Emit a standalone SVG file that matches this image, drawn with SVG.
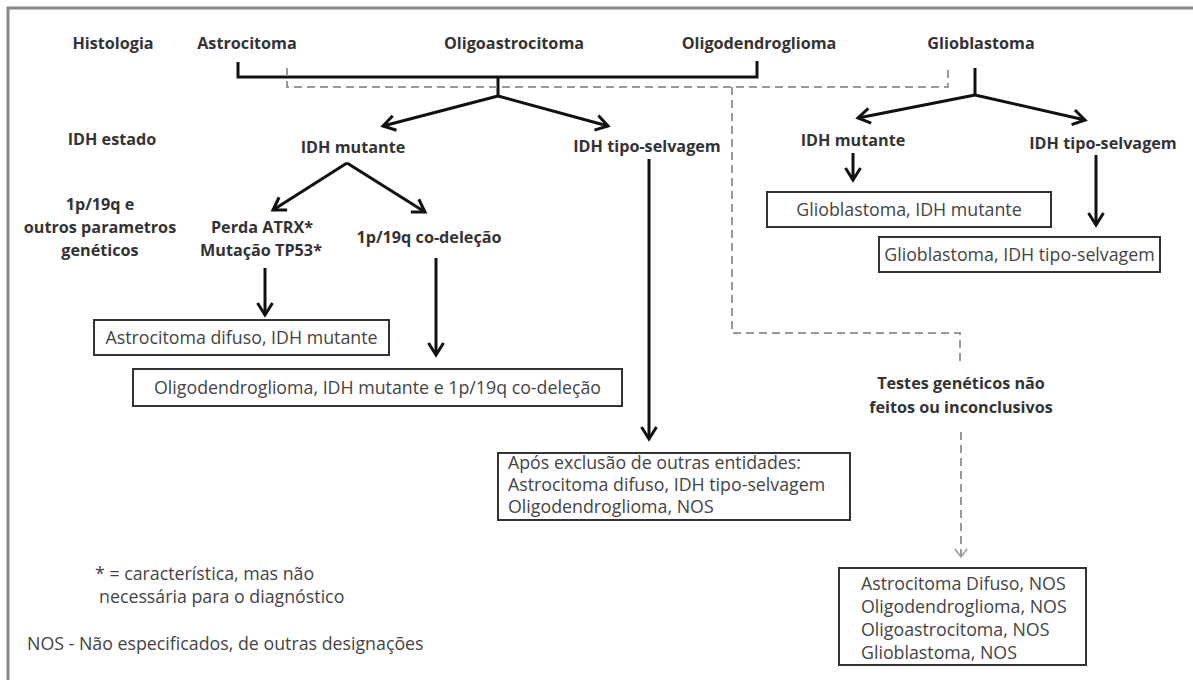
<svg xmlns="http://www.w3.org/2000/svg" width="1193" height="680" viewBox="0 0 1193 680">
<style>
.lbl{font-family:"Open Sans","Liberation Sans",sans-serif;font-weight:700;font-size:16.2px;fill:#333;text-anchor:middle}
.txt{font-family:"Open Sans","Liberation Sans",sans-serif;font-size:17.8px;fill:#444}
.box{fill:#fff;stroke:#333;stroke-width:2}
.sol{fill:none;stroke:#111;stroke-width:3}
.arr{fill:none;stroke:#111;stroke-width:3;marker-end:url(#ah)}
.dash{fill:none;stroke:#999;stroke-width:2;stroke-dasharray:8 5}
</style>
<defs>
<marker id="ah" markerUnits="userSpaceOnUse" markerWidth="24" markerHeight="24" viewBox="-16 -12 20 24" refX="0" refY="0" orient="auto">
<path d="M-12,-7.5 L0,0 L-12,7.5" fill="none" stroke="#111" stroke-width="3" stroke-linejoin="miter"/>
</marker>
<marker id="ahd" markerUnits="userSpaceOnUse" markerWidth="20" markerHeight="20" viewBox="-12 -10 16 20" refX="0" refY="0" orient="auto">
<path d="M-8,-6 L0,0 L-8,6" fill="none" stroke="#999" stroke-width="1.6"/>
</marker>
</defs>
<rect x="0" y="0" width="1193" height="680" fill="#fff"/>
<g id="frame" fill="none" stroke="#888" stroke-width="3">
<path d="M8,680 V8 H1193"/>
</g>

<g id="connectors">
<path class="sol" d="M238,62 V77 H757 V61"/>
<path class="sol" d="M498,77 V96"/>
<path class="arr" d="M498,96 L383,126"/>
<path class="arr" d="M498,96 L608,126"/>
<path class="sol" d="M975,68 V95"/>
<path class="arr" d="M975,95 L858,118"/>
<path class="arr" d="M975,95 L1085,120"/>
<path class="arr" d="M853,153 V180"/>
<path class="arr" d="M1096,155 V225"/>
<path class="arr" d="M347,163 L273,210"/>
<path class="arr" d="M347,163 L425,212"/>
<path class="arr" d="M265,268 V315"/>
<path class="arr" d="M436,258 V355"/>
<path class="arr" d="M649,159 V439"/>
<path class="dash" d="M287,68 V87 H948 V66"/>
<path class="dash" d="M732,87 V333 H960 V365"/>
<path class="dash" d="M961,432 V557" marker-end="url(#ahd)"/>
</g>

<g id="row-labels">
<text class="lbl" x="113" y="49">Histologia</text>
<text class="lbl" x="112" y="145">IDH estado</text>
<text class="lbl" x="100" y="210">1p/19q e</text>
<text class="lbl" x="100" y="233">outros parametros</text>
<text class="lbl" x="100" y="256">genéticos</text>
</g>

<g id="n-astrocitoma"><text class="lbl" x="247" y="49">Astrocitoma</text></g>
<g id="n-oligoastrocitoma"><text class="lbl" x="514" y="49">Oligoastrocitoma</text></g>
<g id="n-oligodendroglioma"><text class="lbl" x="759" y="49">Oligodendroglioma</text></g>
<g id="n-glioblastoma"><text class="lbl" x="981" y="49">Glioblastoma</text></g>

<g id="n-idh-mut"><text class="lbl" x="353" y="153">IDH mutante</text></g>
<g id="n-idh-wt"><text class="lbl" x="647" y="152">IDH tipo-selvagem</text></g>
<g id="n-gbm-idh-mut"><text class="lbl" x="853" y="146">IDH mutante</text></g>
<g id="n-gbm-idh-wt"><text class="lbl" x="1103" y="149">IDH tipo-selvagem</text></g>

<g id="n-atrx">
<text class="lbl" x="262" y="233">Perda ATRX*</text>
<text class="lbl" x="261" y="256">Mutação TP53*</text>
</g>
<g id="n-codel"><text class="lbl" x="429" y="243">1p/19q co-deleção</text></g>

<g id="b-astro-difuso">
<rect class="box" x="94" y="320" width="295" height="35"/>
<text class="txt" x="241.5" y="344" text-anchor="middle">Astrocitoma difuso, IDH mutante</text>
</g>
<g id="b-oligo">
<rect class="box" x="133" y="369" width="489" height="37"/>
<text class="txt" x="377.5" y="394" text-anchor="middle">Oligodendroglioma, IDH mutante e 1p/19q co-deleção</text>
</g>
<g id="b-gbm-mut">
<rect class="box" x="767" y="192" width="284" height="35"/>
<text class="txt" x="909" y="216" text-anchor="middle">Glioblastoma, IDH mutante</text>
</g>
<g id="b-gbm-wt">
<rect class="box" x="879" y="237" width="281" height="35"/>
<text class="txt" x="1019.5" y="261" text-anchor="middle">Glioblastoma, IDH tipo-selvagem</text>
</g>
<g id="b-apos">
<rect class="box" x="498" y="453" width="352" height="67"/>
<text class="txt" x="508" y="469">Após exclusão de outras entidades:</text>
<text class="txt" x="508" y="491">Astrocitoma difuso, IDH tipo-selvagem</text>
<text class="txt" x="508" y="513">Oligodendroglioma, NOS</text>
</g>
<g id="n-testes">
<text class="lbl" x="961" y="389">Testes genéticos não</text>
<text class="lbl" x="961" y="413">feitos ou inconclusivos</text>
</g>
<g id="b-nos">
<rect class="box" x="839" y="568" width="247" height="97"/>
<text class="txt" x="861" y="590">Astrocitoma Difuso, NOS</text>
<text class="txt" x="861" y="613">Oligodendroglioma, NOS</text>
<text class="txt" x="861" y="636">Oligoastrocitoma, NOS</text>
<text class="txt" x="861" y="659">Glioblastoma, NOS</text>
</g>

<g id="legend">
<text class="txt" x="95" y="580">* = característica, mas não</text>
<text class="txt" x="99" y="603">necessária para o diagnóstico</text>
<text class="txt" x="27" y="650">NOS - Não especificados, de outras designações</text>
</g>
</svg>
